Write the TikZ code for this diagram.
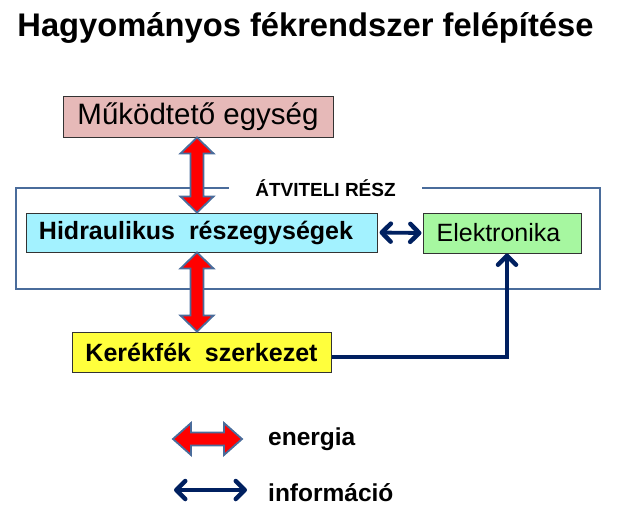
\documentclass[tikz,border=0pt]{standalone}
\usepackage{fontspec}
\setmainfont{Liberation Sans}
\usetikzlibrary{calc,arrows.meta}
\definecolor{pinkfill}{HTML}{E6B9B8}
\definecolor{cyanfill}{HTML}{A3F2FF}
\definecolor{greenfill}{HTML}{A6F7A0}
\definecolor{yellowfill}{HTML}{FFFF3C}
\definecolor{steel}{HTML}{4A6C9B}
\definecolor{navy}{HTML}{002060}
\tikzset{
  box/.style={draw=black!80, line width=1pt, inner sep=0pt, align=center},
  region/.style={draw=steel, line width=1.6pt},
  enarrow/.style={fill=red, draw=steel, line width=1.8pt, line join=miter},
  navytip/.tip={Straight Barb[length=9pt,width=18pt,line width=4.5pt 0 1,round]},
  infoarrow/.style={draw=navy, line width=3.8pt, navytip-navytip},
  infoone/.style={draw=navy, line width=3.8pt, -navytip},
  legendtext/.style={anchor=base west, font=\fontsize{24.5}{28}\selectfont\bfseries, inner sep=0pt},
}
% vertical energy double arrow between two points (top, bottom)
\newcommand\enarrowV[2]{%
  \draw[enarrow] let \p1=(#1), \p2=(#2) in
    (\x1,\y1) -- (\x1+16.5pt,\y1-16pt) -- (\x1+6.5pt,\y1-16pt) -- (\x1+6.5pt,\y2+16pt)
    -- (\x1+16.5pt,\y2+16pt) -- (\x1,\y2) -- (\x1-16.5pt,\y2+16pt) -- (\x1-6.5pt,\y2+16pt)
    -- (\x1-6.5pt,\y1-16pt) -- (\x1-16.5pt,\y1-16pt) -- cycle;}
% horizontal energy double arrow between two points (left, right)
\newcommand\enarrowH[2]{%
  \draw[enarrow] let \p1=(#1), \p2=(#2) in
    (\x1,\y1) -- (\x1+18pt,\y1+16pt) -- (\x1+18pt,\y1+6.5pt) -- (\x2-18pt,\y1+6.5pt)
    -- (\x2-18pt,\y1+16pt) -- (\x2,\y1) -- (\x2-18pt,\y1-16pt) -- (\x2-18pt,\y1-6.5pt)
    -- (\x1+18pt,\y1-6.5pt) -- (\x1+18pt,\y1-16pt) -- cycle;}
\begin{document}
\begin{tikzpicture}[x=1pt,y=-1pt]
\useasboundingbox (0,0) rectangle (619,520);
% title
\node (title) [anchor=base, inner sep=0pt, font=\fontsize{32.7}{36}\selectfont\bfseries] at (305.5,36.7) {Hagyományos fékrendszer felépítése};
% transmission region
\draw[region] (16,188) rectangle (600,289);
\node (tlabel) [fill=white, inner xsep=26pt, inner ysep=2pt, font=\fontsize{19}{22}\selectfont\bfseries] at (325.5,188) {ÁTVITELI RÉSZ};
% boxes
\node (mk) [box, fill=pinkfill, minimum width=270pt, minimum height=41pt, font=\fontsize{29.5}{32}\selectfont] at (198,116.5) {Működtető egység};
\node (hy) [box, fill=cyanfill, minimum width=351pt, minimum height=39pt, font=\fontsize{25}{28}\selectfont\bfseries] at (201.5,232.5) {\hspace*{-11pt}Hidraulikus\ \ részegységek};
\node (el) [box, fill=greenfill, minimum width=158pt, minimum height=40pt, font=\fontsize{25}{28}\selectfont] at (502,233) {\hspace*{-7pt}Elektronika};
\node (kf) [box, fill=yellowfill, minimum width=259pt, minimum height=40pt, font=\fontsize{25}{28}\selectfont\bfseries] at (201.5,352) {Kerékfék\ \ szerkezet};
% energy arrows
\coordinate (e1t) at ($(mk.south)+(-1,0)$);
\coordinate (e1b) at (hy.north -| e1t);
\coordinate (e2t) at (hy.south -| e1t);
\coordinate (e2b) at (kf.north -| e1t);
\enarrowV{e1t}{e1b}
\enarrowV{e2t}{e2b}
% information arrows
\draw[infoarrow] ($(hy.east)+(2,0)$) -- ($(el.west)+(-1,0)$);
\coordinate (kfout) at ($(kf.east)+(0,5)$);
\coordinate (elin) at ($(el.south)+(5,0)$);
\draw[infoone] (kfout) -| (elin);
% legend
\coordinate (le1) at (173,439);
\coordinate (le2) at (242,439);
\enarrowH{le1}{le2}
\node (legE) [legendtext] at (268,445) {energia};
\coordinate (li1) at (174,490);
\coordinate (li2) at (247,490);
\draw[infoarrow] (li1) -- (li2);
\node (legI) [legendtext] at (268,501) {információ};
\end{tikzpicture}
\end{document}
